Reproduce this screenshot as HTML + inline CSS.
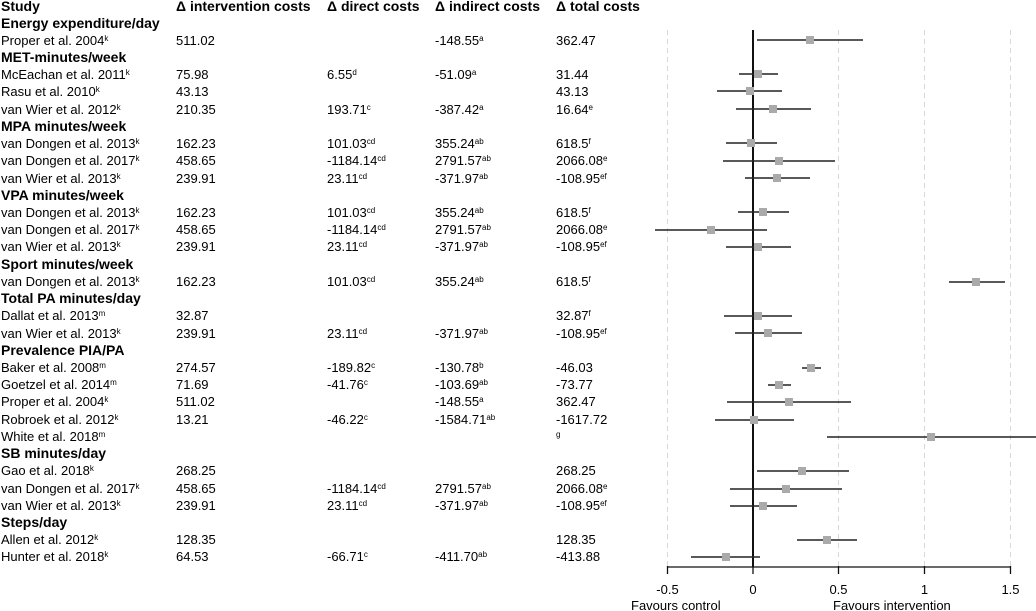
<!DOCTYPE html>
<html><head><meta charset="utf-8"><style>
html,body{margin:0;padding:0;background:#fff}
svg{display:block;font-family:"Liberation Sans",Arial,sans-serif}
.h{font-weight:bold;font-size:14px}
.t{font-size:13px}
.s{font-size:8px}
</style></head><body>
<svg width="1036" height="611" viewBox="0 0 1036 611" xmlns="http://www.w3.org/2000/svg">
<g fill="#000">
<text class="h" x="1" y="11">Study</text>
<text class="h" x="176" y="11">Δ intervention costs</text>
<text class="h" x="327" y="11">Δ direct costs</text>
<text class="h" x="435" y="11">Δ indirect costs</text>
<text class="h" x="556" y="11">Δ total costs</text>

<text class="h" x="1" y="28">Energy expenditure/day</text>
<text class="t" y="45"><tspan x="1">Proper et al. 2004</tspan><tspan class="s" dy="-4">k</tspan><tspan x="176" dy="4">511.02</tspan><tspan x="435">-148.55</tspan><tspan class="s" dy="-4">a</tspan><tspan x="556" dy="4">362.47</tspan></text>

<text class="h" x="1" y="62">MET-minutes/week</text>
<text class="t" y="79"><tspan x="1">McEachan et al. 2011</tspan><tspan class="s" dy="-4">k</tspan><tspan x="176" dy="4">75.98</tspan><tspan x="327">6.55</tspan><tspan class="s" dy="-4">d</tspan><tspan x="435" dy="4">-51.09</tspan><tspan class="s" dy="-4">a</tspan><tspan x="556" dy="4">31.44</tspan></text>
<text class="t" y="96"><tspan x="1">Rasu et al. 2010</tspan><tspan class="s" dy="-4">k</tspan><tspan x="176" dy="4">43.13</tspan><tspan x="556">43.13</tspan></text>
<text class="t" y="114"><tspan x="1">van Wier et al. 2012</tspan><tspan class="s" dy="-4">k</tspan><tspan x="176" dy="4">210.35</tspan><tspan x="327">193.71</tspan><tspan class="s" dy="-4">c</tspan><tspan x="435" dy="4">-387.42</tspan><tspan class="s" dy="-4">a</tspan><tspan x="556" dy="4">16.64</tspan><tspan class="s" dy="-4">e</tspan></text>

<text class="h" x="1" y="131">MPA minutes/week</text>
<text class="t" y="148"><tspan x="1">van Dongen et al. 2013</tspan><tspan class="s" dy="-4">k</tspan><tspan x="176" dy="4">162.23</tspan><tspan x="327">101.03</tspan><tspan class="s" dy="-4">cd</tspan><tspan x="435" dy="4">355.24</tspan><tspan class="s" dy="-4">ab</tspan><tspan x="556" dy="4">618.5</tspan><tspan class="s" dy="-4">f</tspan></text>
<text class="t" y="165"><tspan x="1">van Dongen et al. 2017</tspan><tspan class="s" dy="-4">k</tspan><tspan x="176" dy="4">458.65</tspan><tspan x="327">-1184.14</tspan><tspan class="s" dy="-4">cd</tspan><tspan x="435" dy="4">2791.57</tspan><tspan class="s" dy="-4">ab</tspan><tspan x="556" dy="4">2066.08</tspan><tspan class="s" dy="-4">e</tspan></text>
<text class="t" y="183"><tspan x="1">van Wier et al. 2013</tspan><tspan class="s" dy="-4">k</tspan><tspan x="176" dy="4">239.91</tspan><tspan x="327">23.11</tspan><tspan class="s" dy="-4">cd</tspan><tspan x="435" dy="4">-371.97</tspan><tspan class="s" dy="-4">ab</tspan><tspan x="556" dy="4">-108.95</tspan><tspan class="s" dy="-4">ef</tspan></text>

<text class="h" x="1" y="200">VPA minutes/week</text>
<text class="t" y="217"><tspan x="1">van Dongen et al. 2013</tspan><tspan class="s" dy="-4">k</tspan><tspan x="176" dy="4">162.23</tspan><tspan x="327">101.03</tspan><tspan class="s" dy="-4">cd</tspan><tspan x="435" dy="4">355.24</tspan><tspan class="s" dy="-4">ab</tspan><tspan x="556" dy="4">618.5</tspan><tspan class="s" dy="-4">f</tspan></text>
<text class="t" y="234"><tspan x="1">van Dongen et al. 2017</tspan><tspan class="s" dy="-4">k</tspan><tspan x="176" dy="4">458.65</tspan><tspan x="327">-1184.14</tspan><tspan class="s" dy="-4">cd</tspan><tspan x="435" dy="4">2791.57</tspan><tspan class="s" dy="-4">ab</tspan><tspan x="556" dy="4">2066.08</tspan><tspan class="s" dy="-4">e</tspan></text>
<text class="t" y="251"><tspan x="1">van Wier et al. 2013</tspan><tspan class="s" dy="-4">k</tspan><tspan x="176" dy="4">239.91</tspan><tspan x="327">23.11</tspan><tspan class="s" dy="-4">cd</tspan><tspan x="435" dy="4">-371.97</tspan><tspan class="s" dy="-4">ab</tspan><tspan x="556" dy="4">-108.95</tspan><tspan class="s" dy="-4">ef</tspan></text>

<text class="h" x="1" y="269">Sport minutes/week</text>
<text class="t" y="286"><tspan x="1">van Dongen et al. 2013</tspan><tspan class="s" dy="-4">k</tspan><tspan x="176" dy="4">162.23</tspan><tspan x="327">101.03</tspan><tspan class="s" dy="-4">cd</tspan><tspan x="435" dy="4">355.24</tspan><tspan class="s" dy="-4">ab</tspan><tspan x="556" dy="4">618.5</tspan><tspan class="s" dy="-4">f</tspan></text>

<text class="h" x="1" y="303">Total PA minutes/day</text>
<text class="t" y="320"><tspan x="1">Dallat et al. 2013</tspan><tspan class="s" dy="-4">m</tspan><tspan x="176" dy="4">32.87</tspan><tspan x="556">32.87</tspan><tspan class="s" dy="-4">f</tspan></text>
<text class="t" y="338"><tspan x="1">van Wier et al. 2013</tspan><tspan class="s" dy="-4">k</tspan><tspan x="176" dy="4">239.91</tspan><tspan x="327">23.11</tspan><tspan class="s" dy="-4">cd</tspan><tspan x="435" dy="4">-371.97</tspan><tspan class="s" dy="-4">ab</tspan><tspan x="556" dy="4">-108.95</tspan><tspan class="s" dy="-4">ef</tspan></text>

<text class="h" x="1" y="355">Prevalence PIA/PA</text>
<text class="t" y="372"><tspan x="1">Baker et al. 2008</tspan><tspan class="s" dy="-4">m</tspan><tspan x="176" dy="4">274.57</tspan><tspan x="327">-189.82</tspan><tspan class="s" dy="-4">c</tspan><tspan x="435" dy="4">-130.78</tspan><tspan class="s" dy="-4">b</tspan><tspan x="556" dy="4">-46.03</tspan></text>
<text class="t" y="389"><tspan x="1">Goetzel et al. 2014</tspan><tspan class="s" dy="-4">m</tspan><tspan x="176" dy="4">71.69</tspan><tspan x="327">-41.76</tspan><tspan class="s" dy="-4">c</tspan><tspan x="435" dy="4">-103.69</tspan><tspan class="s" dy="-4">ab</tspan><tspan x="556" dy="4">-73.77</tspan></text>
<text class="t" y="406"><tspan x="1">Proper et al. 2004</tspan><tspan class="s" dy="-4">k</tspan><tspan x="176" dy="4">511.02</tspan><tspan x="435">-148.55</tspan><tspan class="s" dy="-4">a</tspan><tspan x="556" dy="4">362.47</tspan></text>
<text class="t" y="424"><tspan x="1">Robroek et al. 2012</tspan><tspan class="s" dy="-4">k</tspan><tspan x="176" dy="4">13.21</tspan><tspan x="327">-46.22</tspan><tspan class="s" dy="-4">c</tspan><tspan x="435" dy="4">-1584.71</tspan><tspan class="s" dy="-4">ab</tspan><tspan x="556" dy="4">-1617.72</tspan></text>
<text class="t" y="441"><tspan x="1">White et al. 2018</tspan><tspan class="s" dy="-4">m</tspan><tspan class="s" x="556">g</tspan></text>

<text class="h" x="1" y="458">SB minutes/day</text>
<text class="t" y="475"><tspan x="1">Gao et al. 2018</tspan><tspan class="s" dy="-4">k</tspan><tspan x="176" dy="4">268.25</tspan><tspan x="556">268.25</tspan></text>
<text class="t" y="493"><tspan x="1">van Dongen et al. 2017</tspan><tspan class="s" dy="-4">k</tspan><tspan x="176" dy="4">458.65</tspan><tspan x="327">-1184.14</tspan><tspan class="s" dy="-4">cd</tspan><tspan x="435" dy="4">2791.57</tspan><tspan class="s" dy="-4">ab</tspan><tspan x="556" dy="4">2066.08</tspan><tspan class="s" dy="-4">e</tspan></text>
<text class="t" y="510"><tspan x="1">van Wier et al. 2013</tspan><tspan class="s" dy="-4">k</tspan><tspan x="176" dy="4">239.91</tspan><tspan x="327">23.11</tspan><tspan class="s" dy="-4">cd</tspan><tspan x="435" dy="4">-371.97</tspan><tspan class="s" dy="-4">ab</tspan><tspan x="556" dy="4">-108.95</tspan><tspan class="s" dy="-4">ef</tspan></text>

<text class="h" x="1" y="527">Steps/day</text>
<text class="t" y="544"><tspan x="1">Allen et al. 2012</tspan><tspan class="s" dy="-4">k</tspan><tspan x="176" dy="4">128.35</tspan><tspan x="556">128.35</tspan></text>
<text class="t" y="561"><tspan x="1">Hunter et al. 2018</tspan><tspan class="s" dy="-4">k</tspan><tspan x="176" dy="4">64.53</tspan><tspan x="327">-66.71</tspan><tspan class="s" dy="-4">c</tspan><tspan x="435" dy="4">-411.70</tspan><tspan class="s" dy="-4">ab</tspan><tspan x="556" dy="4">-413.88</tspan></text>
</g>

<!-- grid -->
<g stroke="#d8d8d8" stroke-width="1" stroke-dasharray="5,4">
<line x1="667.5" y1="30" x2="667.5" y2="567"/>
<line x1="838.5" y1="30" x2="838.5" y2="567"/>
<line x1="924.5" y1="30" x2="924.5" y2="567"/>
<line x1="1010.5" y1="30" x2="1010.5" y2="567"/>
</g>
<line x1="753" y1="30" x2="753" y2="567" stroke="#111" stroke-width="2"/>

<!-- CIs -->
<g stroke="#222" stroke-width="1.6">
<line x1="757" y1="40" x2="863" y2="40"/>
<line x1="739" y1="74" x2="778" y2="74"/>
<line x1="717" y1="91" x2="782" y2="91"/>
<line x1="736" y1="109" x2="811" y2="109"/>
<line x1="726" y1="143" x2="777" y2="143"/>
<line x1="723" y1="161" x2="835" y2="161"/>
<line x1="745" y1="178" x2="810" y2="178"/>
<line x1="738" y1="212" x2="789" y2="212"/>
<line x1="655" y1="230" x2="767" y2="230"/>
<line x1="726" y1="247" x2="791" y2="247"/>
<line x1="949" y1="282" x2="1005" y2="282"/>
<line x1="724" y1="316" x2="792" y2="316"/>
<line x1="735" y1="333" x2="802" y2="333"/>
<line x1="802" y1="368" x2="821" y2="368"/>
<line x1="768" y1="385" x2="791" y2="385"/>
<line x1="727" y1="402" x2="851" y2="402"/>
<line x1="715" y1="420" x2="794" y2="420"/>
<line x1="827" y1="437" x2="1036" y2="437"/>
<line x1="757" y1="471" x2="849" y2="471"/>
<line x1="730" y1="489" x2="842" y2="489"/>
<line x1="730" y1="506" x2="797" y2="506"/>
<line x1="797" y1="540" x2="857" y2="540"/>
<line x1="691" y1="557" x2="760" y2="557"/>
</g>
<g fill="#aaaaaa">
<rect x="806" y="36" width="8" height="8"/>
<rect x="754" y="70" width="8" height="8"/>
<rect x="746" y="87" width="8" height="8"/>
<rect x="769" y="105" width="8" height="8"/>
<rect x="747" y="139" width="8" height="8"/>
<rect x="775" y="157" width="8" height="8"/>
<rect x="773" y="174" width="8" height="8"/>
<rect x="759" y="208" width="8" height="8"/>
<rect x="707" y="226" width="8" height="8"/>
<rect x="754" y="243" width="8" height="8"/>
<rect x="972" y="278" width="8" height="8"/>
<rect x="754" y="312" width="8" height="8"/>
<rect x="764" y="329" width="8" height="8"/>
<rect x="807" y="364" width="8" height="8"/>
<rect x="775" y="381" width="8" height="8"/>
<rect x="785" y="398" width="8" height="8"/>
<rect x="750" y="416" width="8" height="8"/>
<rect x="927" y="433" width="8" height="8"/>
<rect x="798" y="467" width="8" height="8"/>
<rect x="782" y="485" width="8" height="8"/>
<rect x="759" y="502" width="8" height="8"/>
<rect x="823" y="536" width="8" height="8"/>
<rect x="722" y="553" width="8" height="8"/>
</g>

<!-- axis -->
<g stroke="#111" stroke-width="1.3">
<line x1="667" y1="567" x2="1010.5" y2="567"/>
<line x1="667.5" y1="566" x2="667.5" y2="574"/>
<line x1="753" y1="566" x2="753" y2="574"/>
<line x1="838.5" y1="566" x2="838.5" y2="574"/>
<line x1="924.5" y1="566" x2="924.5" y2="574"/>
<line x1="1010.5" y1="566" x2="1010.5" y2="574"/>
</g>
<g class="t" font-size="13" text-anchor="middle" fill="#000">
<text x="667.5" y="594">-0.5</text>
<text x="753" y="594">0</text>
<text x="838.5" y="594">0.5</text>
<text x="924.5" y="594">1</text>
<text x="1010.5" y="594">1.5</text>
</g>
<text x="631" y="610" font-size="13" fill="#000">Favours control</text>
<text x="833" y="610" font-size="13" fill="#000">Favours intervention</text>
</svg>
</body></html>
